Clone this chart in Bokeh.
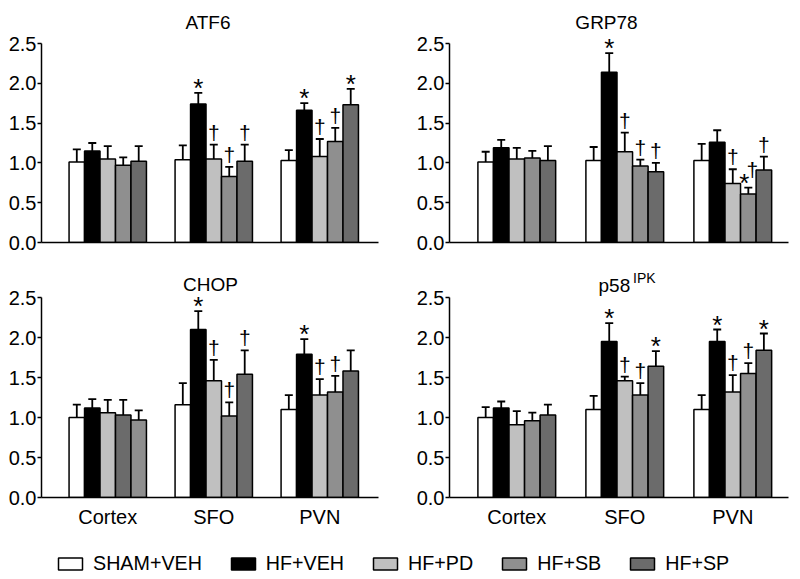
from bokeh.plotting import figure
from bokeh.models import (ColumnDataSource, Range1d, FixedTicker, NumeralTickFormatter,
                          Whisker, TeeHead, LabelSet, Label, Legend, LegendItem)
from bokeh.layouts import column, row
from bokeh.core.properties import value
from bokeh.embed import file_html
from bokeh.resources import INLINE

FONT = "Liberation Sans"

regions = ["Cortex", "SFO", "PVN"]
groups = ["SHAM+VEH", "HF+VEH", "HF+PD", "HF+SB", "HF+SP"]
group_colors = ["#ffffff", "#000000", "#c0c0c0", "#8f8f8f", "#6b6b6b"]

# values ordered: Cortex (5 groups), SFO (5 groups), PVN (5 groups)
atf6_mean = [1.01, 1.15, 1.05, 0.97, 1.02, 1.04, 1.74, 1.05, 0.83, 1.02, 1.03, 1.66, 1.08, 1.27, 1.73]
atf6_err = [0.16, 0.10, 0.16, 0.10, 0.19, 0.18, 0.14, 0.18, 0.12, 0.21, 0.13, 0.09, 0.22, 0.17, 0.20]
atf6_mark = ["", "", "", "", "", "", "*", "†", "†", "†", "", "*", "†", "†", "*"]

grp78_mean = [1.01, 1.19, 1.05, 1.06, 1.03, 1.03, 2.14, 1.14, 0.96, 0.89, 1.03, 1.26, 0.74, 0.61, 0.91]
grp78_err = [0.13, 0.10, 0.14, 0.09, 0.18, 0.17, 0.24, 0.24, 0.08, 0.11, 0.21, 0.15, 0.18, 0.08, 0.17]
grp78_mark = ["", "", "", "", "", "", "*", "†", "†", "†", "", "", "†", "*†", "†"]

chop_mean = [1.00, 1.12, 1.06, 1.03, 0.97, 1.16, 2.10, 1.46, 1.02, 1.54, 1.10, 1.79, 1.28, 1.32, 1.58]
chop_err = [0.16, 0.11, 0.16, 0.19, 0.12, 0.27, 0.23, 0.26, 0.17, 0.30, 0.18, 0.19, 0.20, 0.20, 0.26]
chop_mark = ["", "", "", "", "", "", "*", "†", "†", "†", "", "*", "†", "†", ""]

p58_mean = [1.00, 1.12, 0.91, 0.96, 1.03, 1.10, 1.95, 1.46, 1.28, 1.64, 1.10, 1.95, 1.32, 1.55, 1.84]
p58_err = [0.13, 0.08, 0.17, 0.10, 0.13, 0.17, 0.23, 0.05, 0.15, 0.19, 0.18, 0.15, 0.21, 0.13, 0.21]
p58_mark = ["", "", "", "", "", "", "*", "†", "†", "*", "", "*", "†", "†", "*"]

y_ticks = [0.0, 0.5, 1.0, 1.5, 2.0, 2.5]
y_max = 2.5


def make_panel(mean, err, marks, left_side, bottom_row, colors=None):
    if colors is None:
        colors = group_colors * len(regions)
    if left_side:
        xr = Range1d(-0.625, 2.554)
        bw = 0.146
        bl, br = 41, 22
    else:
        xr = Range1d(-0.623, 2.516)
        bw = 0.144
        bl, br = 49, 12
    if bottom_row:
        h, bb, yend = 272, 35, 237 / 80.0
    else:
        h, bb, yend = 260, 18, 242 / 79.6
    p = figure(width=400, height=h, x_range=xr, y_range=Range1d(0, yend),
               min_border_left=bl, min_border_right=br, min_border_top=0,
               min_border_bottom=bb, output_backend="svg", toolbar_location=None,
               tools="")
    p.outline_line_color = None
    p.xgrid.visible = False
    p.ygrid.visible = False

    xs, tops, ups, cols, stars, dags, sxo, dxo, dyo = [], [], [], [], [], [], [], [], []
    for i in range(len(mean)):
        r, g = divmod(i, len(groups))
        xs.append(r + (g - 2) * bw)
        tops.append(mean[i])
        ups.append(mean[i] + err[i])
        cols.append(colors[i])
        m = marks[i]
        both = ("*" in m) and ("†" in m)
        stars.append("*" if "*" in m else "")
        dags.append("†" if "†" in m else "")
        sxo.append(-4 if both else 0)
        dxo.append(4 if both else 0)
        dyo.append(11 if both else 5)
    src = ColumnDataSource(dict(x=xs, top=tops, upper=ups, color=cols, star=stars,
                                dag=dags, sxo=sxo, dxo=dxo, dyo=dyo))
    p.vbar(x="x", top="top", bottom=0, width=bw, fill_color="color",
           line_color="black", line_width=1.5, source=src)
    wh = Whisker(base="x", lower="top", upper="upper", source=src, dimension="height",
                 line_width=1.8, line_color="black",
                 upper_head=TeeHead(size=8, line_width=1.8, line_color="black"),
                 lower_head=None)
    p.add_layout(wh)
    p.add_layout(LabelSet(x="x", y="upper", text="star", source=src, x_offset="sxo",
                          y_offset=-4, text_align="center", text_baseline="alphabetic",
                          text_font=value(FONT), text_font_size=value("26px"),
                          text_color="black"))
    p.add_layout(LabelSet(x="x", y="upper", text="dag", source=src, x_offset="dxo",
                          y_offset="dyo", text_align="center", text_baseline="alphabetic",
                          text_font=value(FONT), text_font_size=value("21px"),
                          text_color="black"))

    ya = p.yaxis[0]
    ya.ticker = FixedTicker(ticks=y_ticks)
    ya.bounds = (0, y_max)
    ya.formatter = NumeralTickFormatter(format="0.0")
    ya.minor_tick_line_color = None
    ya.major_tick_in = 0
    ya.major_tick_out = 4
    ya.major_label_standoff = 1
    ya.axis_line_width = 1.5
    ya.major_tick_line_width = 1.5
    ya.major_label_text_font = FONT
    ya.major_label_text_font_size = "20px"
    ya.major_label_text_color = "black"
    ya.axis_line_color = "black"

    xa = p.xaxis[0]
    xa.minor_tick_line_color = None
    xa.major_tick_line_color = None
    xa.major_tick_in = 0
    xa.major_tick_out = 0
    xa.axis_line_width = 1.5
    xa.axis_line_color = "black"
    if bottom_row:
        xa.ticker = FixedTicker(ticks=[0, 1, 2])
        xa.major_label_overrides = {i: name for i, name in enumerate(regions)}
        xa.major_label_standoff = 8
        xa.major_label_text_font = FONT
        xa.major_label_text_font_size = "20px"
        xa.major_label_text_color = "black"
    else:
        xa.ticker = FixedTicker(ticks=[])
    return p


def add_title(p, text, x, y, size="19px", align="center"):
    p.add_layout(Label(x=x, y=y, x_units="screen", y_units="screen", text=text,
                       text_align=align, text_baseline="alphabetic",
                       text_font=FONT, text_font_size=size, text_color="black"))


p1 = make_panel(atf6_mean, atf6_err, atf6_mark, True, False)
add_title(p1, "ATF6", 166.5, 220)
p2 = make_panel(grp78_mean, grp78_err, grp78_mark, False, False)
add_title(p2, "GRP78", 157, 220)

chop_colors = group_colors * len(regions)
chop_colors[3], chop_colors[4] = group_colors[4], group_colors[3]
p3 = make_panel(chop_mean, chop_err, chop_mark, True, True, colors=chop_colors)
add_title(p3, "CHOP", 169, 213)
p4 = make_panel(p58_mean, p58_err, p58_mark, False, True)
add_title(p4, "p58", 149, 212, align="left")
add_title(p4, "IPK", 183.5, 220, size="14px", align="left")

# legend strip
pl = figure(width=800, height=45, x_range=Range1d(0, 1), y_range=Range1d(0, 1),
            min_border=0, output_backend="svg", toolbar_location=None, tools="",
            x_axis_location=None, y_axis_location=None)
pl.outline_line_color = None
pl.xgrid.visible = False
pl.ygrid.visible = False
items = []
for name, col in zip(groups, group_colors):
    r = pl.vbar(x=[0.5], top=[0.5], bottom=[0.4], width=0.01, fill_color=col,
                line_color="black", line_width=1.5, visible=False)
    items.append(LegendItem(label=name, renderers=[r]))
leg = Legend(items=items, orientation="horizontal", location=(55, 2),
             glyph_width=30, glyph_height=15, label_height=15, label_standoff=8,
             spacing=26, padding=0, margin=0, border_line_color=None,
             background_fill_alpha=0, label_text_font=FONT,
             label_text_font_size="19.7px", label_text_color="black")
pl.add_layout(leg)

layout = column(row(p1, p2), row(p3, p4), pl)

open("out.html", "w").write(file_html(layout, INLINE))
